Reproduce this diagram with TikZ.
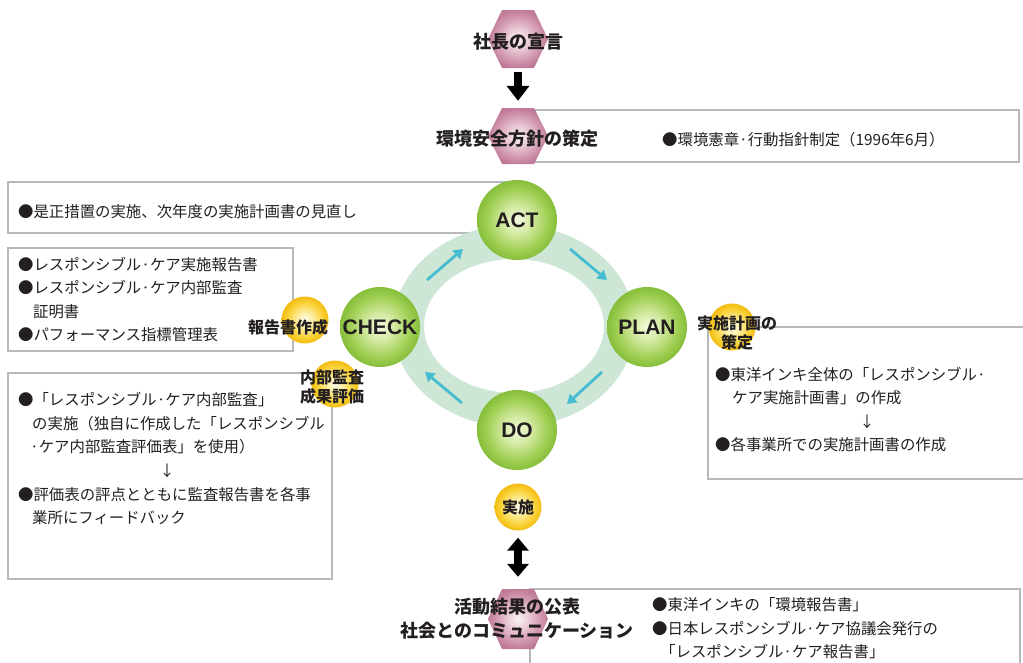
\documentclass[tikz,border=0pt]{standalone}
\usepackage{fontspec}
\setmainfont{Noto Sans CJK JP}
\newfontfamily\latfont{Liberation Sans}
\usetikzlibrary{arrows.meta,calc}
\definecolor{boxgray}{HTML}{B8B8BC}
\definecolor{ringgreen}{HTML}{CDE6D6}
\definecolor{arrcyan}{HTML}{45BCCF}
\definecolor{txt}{HTML}{231F20}
\definecolor{gc0}{HTML}{F4FADF}
\definecolor{gc1}{HTML}{D3E9A0}
\definecolor{gc2}{HTML}{A0CF54}
\definecolor{gc3}{HTML}{86BE3A}
\definecolor{yc0}{HTML}{FFFDEE}
\definecolor{yc1}{HTML}{FDED9C}
\definecolor{yc2}{HTML}{F9D134}
\definecolor{yc3}{HTML}{F3BC12}
\definecolor{pc0}{HTML}{FBF2F5}
\definecolor{pc1}{HTML}{EACAD7}
\definecolor{pc2}{HTML}{D49BB2}
\definecolor{pc3}{HTML}{C07B98}
\pgfdeclareradialshading{greenball}{\pgfpoint{0bp}{0bp}}{color(0bp)=(gc0); color(9bp)=(gc1); color(19bp)=(gc2); color(25bp)=(gc3); color(50bp)=(gc3)}
\pgfdeclareradialshading{yellowball}{\pgfpoint{0bp}{0bp}}{color(0bp)=(yc0); color(9bp)=(yc1); color(19bp)=(yc2); color(25bp)=(yc3); color(50bp)=(yc3)}
\pgfdeclareradialshading{pinkhex}{\pgfpoint{0bp}{0bp}}{color(0bp)=(pc0); color(9bp)=(pc1); color(18bp)=(pc2); color(25bp)=(pc3); color(50bp)=(pc3)}
\newcommand\hexnode[4]{%
  \shade[shading=pinkhex] (#2-16,#3-#4) -- (#2+16,#3-#4) -- (#2+30,#3) -- (#2+16,#3+#4) -- (#2-16,#3+#4) -- (#2-30,#3) -- cycle;
  \node[inner sep=0pt, minimum width=60pt, minimum height={2*#4pt}] (#1) at (#2,#3) {};}
\begin{document}
\begin{tikzpicture}[x=1pt,y=-1pt,
  box/.style={draw=boxgray, line width=2.6pt, fill=white},
  body/.style={font=\fontsize{15.4}{18}\selectfont, text=txt, anchor=west, inner sep=0pt, text height=13.5pt, text depth=1.9pt},
  darr/.style={font=\fontsize{15}{17}\selectfont, text=txt, inner sep=0pt},
  pdca/.style={circle, minimum size=80pt, inner sep=0pt, shade, shading=greenball, font=\latfont\bfseries\fontsize{21}{23}\selectfont, text=txt},
  ylw/.style={circle, minimum size=47pt, inner sep=0pt, shade, shading=yellowball},
  ylab/.style={font=\bfseries\fontsize{16}{19.5}\selectfont, align=center, text=txt, inner sep=0pt},
  hexlab/.style={font=\bfseries\fontsize{18}{24}\selectfont, align=center, text=txt, inner sep=0pt},
  cyarr/.style={draw=arrcyan, line width=2.8pt, -{Triangle[length=9pt,width=11pt]}},
  blkarr/.style={draw=black, line width=8pt, -{Triangle[length=15pt,width=22pt]}},
  blkdbl/.style={draw=black, line width=8pt, {Triangle[length=13pt,width=21pt]}-{Triangle[length=13pt,width=21pt]}}
]
\useasboundingbox (0,0) rectangle (1023,662);
\fill[white] (0,0) rectangle (1023,662);

% boxes
\draw[box] (526,110) rectangle (1019,162);
\draw[box] (8,182) rectangle (515,233);
\draw[box] (8,248) rectangle (293,351);
\draw[box] (8,373) rectangle (332,579);
\fill[white] (708,327) rectangle (1025,479);
\draw[box] (1026,327) -- (708,327) -- (708,479) -- (1026,479);
\fill[white] (530,589) rectangle (1021,668);
\draw[box] (530,668) -- (530,589) -- (1020,589) -- (1020,668);

% ring
\fill[ringgreen, even odd rule] (514,326) ellipse [x radius=121pt, y radius=101pt]
  (514,326) ellipse [x radius=90pt, y radius=67pt];

% hexagons
\hexnode{decl}{518}{39}{29}
\hexnode{policy}{518}{136}{28}
\hexnode{pub}{518}{619}{30}

% black arrow
\draw[blkarr, shorten <=4pt, shorten >=7pt] (decl) -- (policy);

% PDCA circles
\node[pdca] (act) at (517,220) {ACT};
\node[pdca] (plan) at (647,327) {PLAN};
\node[pdca] (do) at (517,430) {DO};
\node[pdca] (check) at (380,327) {CHECK};

% cyan arrows on the ring
\coordinate (c1s) at (427,280); \coordinate (c1e) at (463,249);
\coordinate (c2s) at (570,249); \coordinate (c2e) at (607,280);
\coordinate (c3s) at (602,372); \coordinate (c3e) at (567,404);
\coordinate (c4s) at (462,403); \coordinate (c4e) at (425,372);
\draw[cyarr] (c1s) -- (c1e);
\draw[cyarr] (c2s) -- (c2e);
\draw[cyarr] (c3s) -- (c3e);
\draw[cyarr] (c4s) -- (c4e);

% yellow circles
\node[ylw] (yrep) at (305,320) {};
\node[ylw] (yplan) at (732,327) {};
\node[ylw] (yaud) at (335,384) {};
\node[ylw] (yjis) at (518,507) {};

\draw[blkdbl, shorten <=7pt, shorten >=12pt] (yjis) -- (pub);

% labels
\node[hexlab] (declt) at (518,42) {社長の宣言};
\node[hexlab] (policyt) at (517,139) {環境安全方針の策定};
\node[hexlab] (pubt) at (517,619) {活動結果の公表\\社会とのコミュニケーション};
\node[ylab] (yrept) at (288,327) {報告書作成};
\node[ylab] (yplant) at (737,333) {実施計画の\\策定};
\node[ylab] (yaudt) at (332,387) {内部監査\\成果評価};
\node[ylab] (yjist) at (518,507) {実施};

% box texts
\node[body] (e1) at (662,140) {●環境憲章·行動指針制定（1996年6月）};
\node[body] (a1) at (18,212) {●是正措置の実施、次年度の実施計画書の見直し};
\node[body] (k1) at (18,265) {●レスポンシブル·ケア実施報告書};
\node[body] (k2) at (18,288) {●レスポンシブル·ケア内部監査};
\node[body] (k3) at (33,312) {証明書};
\node[body] (k4) at (18,335) {●パフォーマンス指標管理表};
\node[body] (d1) at (18,400) {●「レスポンシブル·ケア内部監査」};
\node[body] (d2) at (32,424) {の実施（独自に作成した「レスポンシブル};
\node[body] (d3) at (30,447) {·ケア内部監査評価表」を使用）};
\node[darr] (d4) at (167,471) {↓};
\node[body] (d5) at (18,495) {●評価表の評点とともに監査報告書を各事};
\node[body] (d6) at (32,518) {業所にフィードバック};
\node[body] (p1) at (715,375) {●東洋インキ全体の「レスポンシブル·};
\node[body] (p2) at (732,398) {ケア実施計画書」の作成};
\node[darr] (p3) at (867,422) {↓};
\node[body] (p4) at (715,445) {●各事業所での実施計画書の作成};
\node[body] (b1) at (652,605) {●東洋インキの「環境報告書」};
\node[body] (b2) at (652,629) {●日本レスポンシブル·ケア協議会発行の};
\node[body] (b3) at (660,652) {「レスポンシブル·ケア報告書」};
\end{tikzpicture}
\end{document}
